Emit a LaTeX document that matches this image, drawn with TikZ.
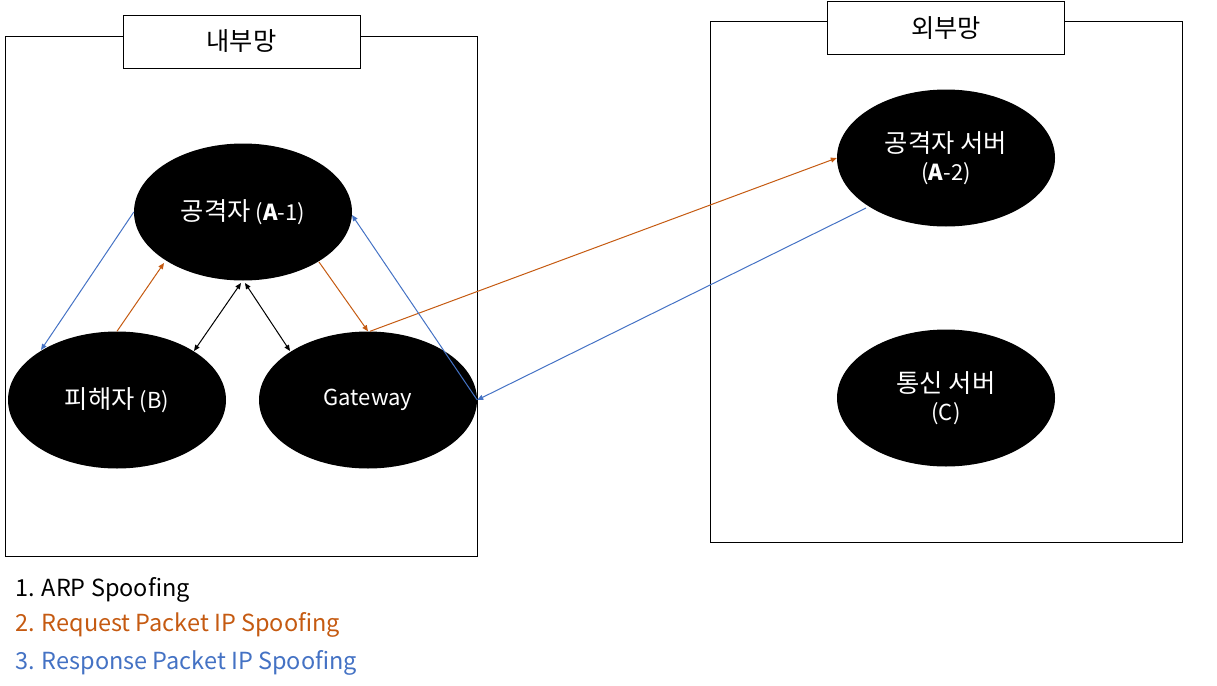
\documentclass[tikz,border=0pt]{standalone}
\usepackage{fontspec}
\setmainfont{Noto Sans CJK KR}
\newfontfamily\kr{Noto Sans CJK KR}[Scale=1.15]
\usetikzlibrary{arrows.meta,shapes.geometric}
\definecolor{orng}{HTML}{C55A11}
\definecolor{blu}{HTML}{4472C4}
\tikzset{
  ell/.style={ellipse,fill=black,draw=none,minimum width=218pt,minimum height=137pt,text=white,font=\fontsize{22}{28}\selectfont,align=center,inner sep=0pt},
  frame/.style={draw=black,line width=0.8pt},
  titlebox/.style={draw=black,fill=white,line width=0.8pt,minimum width=237pt,minimum height=53pt,font=\fontsize{22}{26}\selectfont,inner sep=0pt},
  con/.style={line width=1pt,-{Triangle[length=6pt,width=5pt]}},
  dcon/.style={line width=1pt,{Triangle[length=6pt,width=5pt]}-{Triangle[length=6pt,width=5pt]}},
  legend/.style={anchor=west,font=\fontsize{23.5}{26}\selectfont,inner sep=0pt}
}
\begin{document}
\begin{tikzpicture}[x=1pt,y=-1pt]
\useasboundingbox (0,0) rectangle (1217,685);
% frames
\draw[frame] (5,36) rectangle (477,556);
\draw[frame] (710,21) rectangle (1182,542);
\node[titlebox] (t1) at (241.5,41.5) {\kr 내부망};
\node[titlebox] (t2) at (946,28) {\kr 외부망};
% nodes
\node[ell] (a1) at (243,212) {{\kr 공격자} (\textbf{A}-1)};
\node[ell] (b) at (117,400) {{\kr 피해자} (B)};
\node[ell] (gw) at (368,400) {Gateway};
\node[ell] (a2) at (946,158) {{\kr 공격자 서버}\\(\textbf{A}-2)};
\node[ell] (c) at (946,398) {{\kr 통신 서버}\\(C)};
% connectors
\draw[con,blu] (a1.west) -- ([shift={(-76,-50)}]b.center);
\draw[con,orng] (b.north) -- ([shift={(-79,51)}]a1.center);
\draw[dcon,black] ([shift={(-2,71)}]a1.center) -- ([shift={(77,-49)}]b.center);
\draw[dcon,black] ([shift={(2,71)}]a1.center) -- ([shift={(-78,-49)}]gw.center);
\draw[con,orng] ([shift={(76,50)}]a1.center) -- (gw.north);
\draw[con,orng] ([shift={(2,0)}]gw.north) -- (a2.west);
\draw[con,blu] ([shift={(-80,50)}]a2.center) -- (gw.east);
\draw[con,blu] (gw.east) -- ([shift={(109,3)}]a1.center);
% legend
\node[legend,text=black] (l1) at (15,590) {1. ARP Spoofing};
\node[legend,text=orng] (l2) at (15,625) {2. Request Packet IP Spoofing};
\node[legend,text=blu] (l3) at (15,663) {3. Response Packet IP Spoofing};
\end{tikzpicture}
\end{document}
